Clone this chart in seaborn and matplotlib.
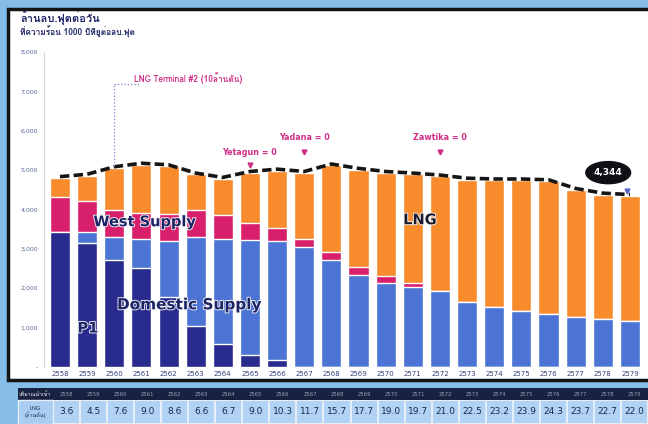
import numpy as np
import pandas as pd
import matplotlib
matplotlib.use("Agg")
import matplotlib.pyplot as plt
import seaborn as sns
from matplotlib.patches import Rectangle, Ellipse
from matplotlib.colors import ListedColormap
import matplotlib.patheffects as pe
from matplotlib import font_manager as fm
from matplotlib.ft2font import FT2Font

# ---------------- data ----------------
years = [str(y) for y in range(2558, 2580)]
p1 = [3420, 3150, 2720, 2510, 1790, 1030, 580, 305, 180, 0, 0, 0, 0, 0, 0, 0, 0, 0, 0, 0, 0, 0]
domestic = [0, 290, 580, 750, 1400, 2270, 2670, 2925, 3010, 3050, 2720, 2340, 2130, 2020, 1920, 1640,
            1530, 1430, 1340, 1260, 1210, 1170]
west = [890, 780, 690, 660, 690, 690, 600, 420, 340, 200, 190, 200, 170, 110, 0, 0, 0, 0, 0, 0, 0, 0]
lng = [490, 640, 1060, 1220, 1220, 900, 930, 1280, 1460, 1680, 2210, 2470, 2630, 2760, 2920, 3120,
       3210, 3310, 3380, 3240, 3170, 3174]
lng_import = [3.6, 4.5, 7.6, 9.0, 8.6, 6.6, 6.7, 9.0, 10.3, 11.7, 15.7, 17.7, 19.0, 19.7, 21.0, 22.5,
              23.2, 23.9, 24.3, 23.7, 22.7, 22.0]
yticks = [0, 1000, 2000, 3000, 4000, 5000, 6000, 7000, 8000]
ytick_labels = ["-", "1,000", "2,000", "3,000", "4,000", "5,000", "6,000", "7,000", "8,000"]
total_label = "4,344"

# ---------------- fonts ----------------
sns.set_theme(style="white")


def thai_family():
    cands = {}
    for f in fm.fontManager.ttflist:
        try:
            cm = FT2Font(f.fname).get_charmap()
        except Exception:
            continue
        if 0x0E25 in cm and 0x0E1F in cm:
            w = f.weight if isinstance(f.weight, int) else 400
            cands.setdefault(f.name, []).append(w)
    if not cands:
        return None
    for name, ws in cands.items():
        if max(ws) >= 600:
            return name
    return next(iter(cands))


tf = thai_family()
THAI = ([tf] if tf else []) + ["DejaVu Sans"]
LAT = ["DejaVu Sans"]
plt.rcParams["font.family"] = THAI

NAVY = "#2a2b8e"
BLUE = "#4b74d4"
PINK = "#d81f6c"
ORANGE = "#f88b2c"
MAG = "#cf2f86"
TXT = "#1c2466"

fig = plt.figure(figsize=(6.48, 4.24), dpi=100, facecolor="#86bde8")
W, H = 648.0, 424.0

# white panel with dark frame (behind everything)
fig.patches.append(Rectangle((8 / W, 1 - 380 / H), 1.0, (380 - 9) / H, transform=fig.transFigure,
                             facecolor="white", edgecolor="#141414", lw=2.5, zorder=-10))

ax = fig.add_axes([43.7 / W, 1 - 367 / H, 602.5 / W, (367 - 52) / H])
ax.set_facecolor("none")

c1 = np.array(p1)
c2 = c1 + np.array(domestic)
c3 = c2 + np.array(west)
c4 = c3 + np.array(lng)

for vals, color in [(c4, ORANGE), (c3, PINK), (c2, BLUE), (c1, NAVY)]:
    sns.barplot(x=years, y=vals, color=color, width=0.74, saturation=1, ax=ax, zorder=2)

x = np.arange(len(years))
ax.plot(x, c4 + 35, color="#151515", lw=2.6, ls=(0, (2.6, 1.2)), zorder=6, solid_capstyle="butt")

ax.set_xlim(-0.6, len(years) - 1 + 0.6)
ax.set_ylim(0, 8000)
ax.set_yticks(yticks)
ax.set_yticklabels(ytick_labels, fontsize=4.5, color="#5a6a9a", fontfamily=LAT)
ax.tick_params(axis="y", pad=4, length=0)
ax.tick_params(axis="x", pad=3, length=0, labelsize=5, labelcolor="#34407a")
for lab in ax.get_xticklabels():
    lab.set_fontfamily(LAT)
ax.set_xlabel("")
ax.set_ylabel("")
for s in ["top", "right"]:
    ax.spines[s].set_visible(False)
ax.spines["left"].set_color("#d8d8d8")
ax.spines["left"].set_linewidth(0.8)
ax.spines["bottom"].set_visible(False)

# annotations
halo = [pe.withStroke(linewidth=1.3, foreground="#f4f4f8")]
ax.text(3.13, 3690, "West Supply", ha="center", va="center", fontsize=10.5, fontweight="bold",
        color=TXT, path_effects=halo, zorder=8, fontfamily=LAT)
ax.text(4.75, 1580, "Domestic Supply", ha="center", va="center", fontsize=11, fontweight="bold",
        color=TXT, path_effects=halo, zorder=8, fontfamily=LAT)
ax.text(1.03, 990, "P1", ha="center", va="center", fontsize=10.5, fontweight="bold",
        color=TXT, path_effects=halo, zorder=8, fontfamily=LAT)
ax.text(13.27, 3740, "LNG", ha="center", va="center", fontsize=10.5, fontweight="bold",
        color="#1a1a2a", path_effects=halo, zorder=8, fontfamily=LAT)

ax.plot([2, 2], [c4[2] + 60, 7200], color="#7a8ad8", lw=0.9, ls=":", zorder=7)
ax.plot([2, 2.9], [7200, 7200], color="#7a8ad8", lw=0.9, ls=":", zorder=7)
ax.text(2.72, 7330, "LNG Terminal #2 (10ล้านตัน)", ha="left", va="center", fontsize=6,
        fontweight="bold", color=MAG, zorder=8)

for xi, ty, ay, lab in [(7, 5445, 5120, "Yetagun = 0"), (9, 5825, 5470, "Yadana = 0"),
                        (14, 5825, 5470, "Zawtika = 0")]:
    ax.text(xi, ty, lab, ha="center", va="center", fontsize=5.8, fontweight="bold", color=MAG,
            zorder=8, fontfamily=LAT)
    ax.plot(xi, ay, marker="v", ms=3.5, color=MAG, zorder=8)

ax.add_patch(Ellipse((20.2, 4936), 1.65, 560, facecolor="#0f0f14", edgecolor="#0f0f14", zorder=9,
                     clip_on=False))
ax.text(20.2, 4936, total_label, ha="center", va="center", fontsize=6.5, fontweight="bold",
        color="white", zorder=10, fontfamily=LAT)
ax.plot(20.9, 4480, marker="v", ms=3.5, color="#5a66c8", zorder=10)

# titles
fig.text(20 / W, 1 - 18 / H, "ล้านลบ.ฟุตต่อวัน", fontsize=8, fontweight="bold", color=TXT,
         va="center", ha="left")
fig.text(20 / W, 1 - 32 / H, "ที่ความร้อน 1000 บีทียูต่อลบ.ฟุต", fontsize=6, fontweight="bold",
         color=TXT, va="center", ha="left")

# ---------------- table ----------------
axh = fig.add_axes([53 / W, 1 - 400 / H, 595 / W, 12 / H])
axh.set_facecolor("#18213f")
axh.set_xlim(0, len(years))
axh.set_ylim(0, 1)
for i, yr in enumerate(years):
    axh.text(i + 0.5, 0.5, yr, ha="center", va="center", fontsize=3.8, color="#9aa3b8",
             fontfamily=LAT)
axh.set_xticks([])
axh.set_yticks([])
for s in axh.spines.values():
    s.set_visible(False)

fig.patches.append(Rectangle((18 / W, 1 - 400 / H), 35 / W, 12 / H, transform=fig.transFigure,
                             facecolor="#18213f", edgecolor="none", zorder=1))
fig.text(35 / W, 1 - 394 / H, "ปริมาณนำเข้า", fontsize=3.8, color="white", ha="center",
         va="center", zorder=3)
fig.patches.append(Rectangle((18 / W, 0), 35 / W, 24 / H, transform=fig.transFigure,
                             facecolor="#a9cdf0", edgecolor="#e6eef8", lw=1, zorder=1))
fig.text(35 / W, 1 - 412 / H, "LNG\n(ล้านตัน)", fontsize=4, color="#1a2a55", ha="center",
         va="center", linespacing=1.1, zorder=3)

axv = fig.add_axes([53 / W, 0, 595 / W, 24 / H])
sns.heatmap(np.array([lng_import]), ax=axv, annot=True, fmt=".1f",
            cmap=ListedColormap(["#b1d2f2"]), cbar=False, linewidths=1.2, linecolor="#e6eef8",
            annot_kws=dict(size=6.5, color="#1a2a50", family=LAT), xticklabels=False,
            yticklabels=False)

fig.savefig("out.png", dpi=100, facecolor=fig.get_facecolor())
